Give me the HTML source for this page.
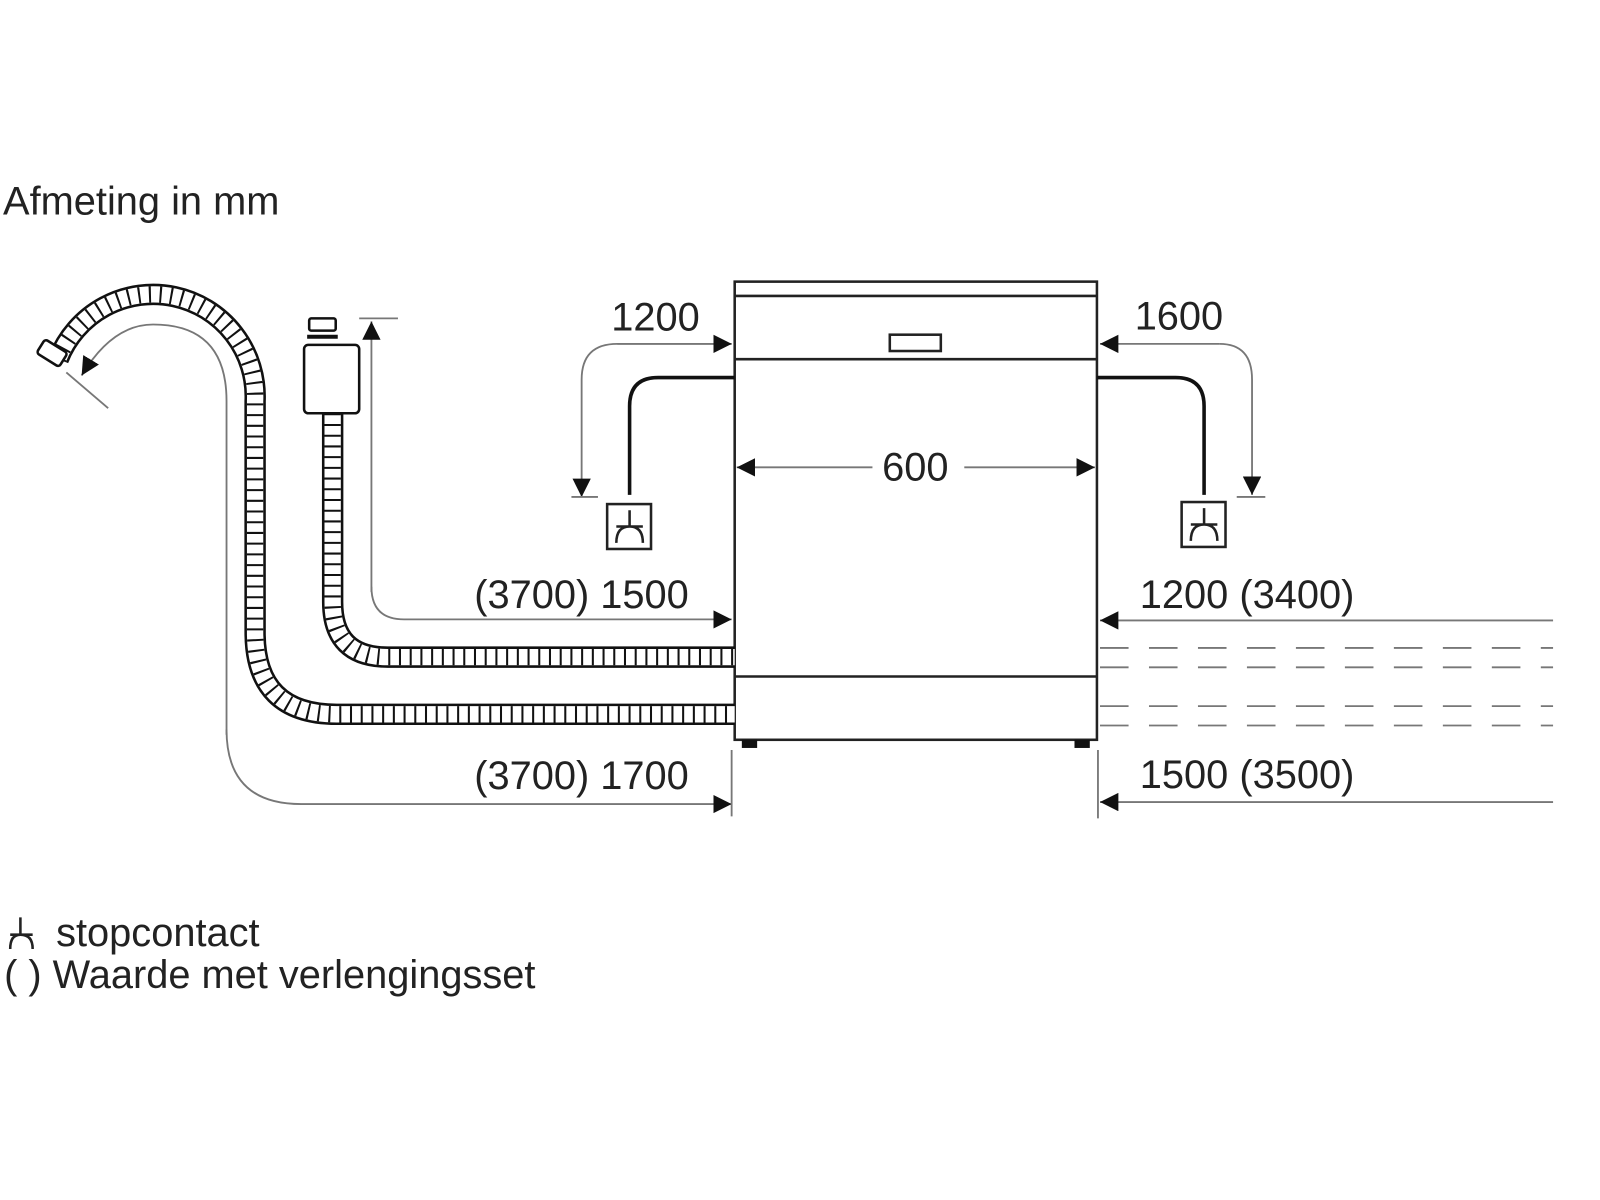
<!DOCTYPE html>
<html><head><meta charset="utf-8"><style>html,body{margin:0;padding:0;background:#fff}svg{display:block}</style></head><body>
<svg width="1600" height="1200" viewBox="0 0 1568 1176" xmlns="http://www.w3.org/2000/svg" font-family="Liberation Sans, sans-serif" fill="none">
<defs>
<marker id="a" viewBox="0 0 10 10" refX="10" refY="5" markerWidth="18" markerHeight="18" markerUnits="userSpaceOnUse" orient="auto"><path d="M0,0 L10,5 L0,10z" fill="#111"/></marker>
</defs>
<g fill="#222" stroke="none" font-size="39">
<text x="3" y="210">Afmeting in mm</text>
<text x="599" y="324">1200</text>
<text x="1112" y="323">1600</text>
<text x="897" y="471" text-anchor="middle">600</text>
<text x="675" y="596" text-anchor="end">(3700) 1500</text>
<text x="1117" y="596">1200 (3400)</text>
<text x="675" y="773" text-anchor="end">(3700) 1700</text>
<text x="1117" y="772">1500 (3500)</text>
<text x="55" y="927">stopcontact</text>
<text x="4" y="968">( ) Waarde met verlengingsset</text>
</g>
<g stroke="#222" stroke-width="2.5"><path d="M20 899 V916 M10 916 H32 M10 930 Q10 916 20 916 Q32 916 32 930"/></g>
<g stroke="#222" stroke-width="2.5">
<rect x="720" y="276" width="355" height="449"/>
<line x1="720" y1="290" x2="1075" y2="290"/>
<line x1="720" y1="352" x2="1075" y2="352"/>
<line x1="720" y1="663" x2="1075" y2="663"/>
<rect x="872" y="328" width="50" height="16"/>
</g>
<rect x="727" y="725" width="15" height="8" fill="#111"/>
<rect x="1053" y="725" width="15" height="8" fill="#111"/>
<g stroke="#111" stroke-width="3.5">
<path d="M720 370 H645 Q617 370 617 398 V485"/>
<path d="M1075 370 H1152 Q1180 370 1180 398 V485"/>
</g>
<g stroke="#222" stroke-width="2.5">
<rect x="595" y="494" width="43" height="44"/>
<path d="M617 500 V516 M604 516 H630 M604 532 Q604 516 617 516 Q630 516 630 532"/>
<rect x="1158" y="492" width="43" height="44"/>
<path d="M1180 498 V514 M1167 514 H1193 M1167 530 Q1167 514 1180 514 Q1193 514 1193 530"/>
</g>
<g stroke="#777" stroke-width="1.8">
<path d="M717 337 H605 Q570 337 570 372 V487" marker-end="url(#a)"/>
<path d="M605 337 H717" marker-end="url(#a)"/>
<line x1="560" y1="487" x2="586" y2="487"/>
<path d="M1195 337 Q1227 337 1227 372 V485" marker-end="url(#a)"/>
<path d="M1195 337 H1078" marker-end="url(#a)"/>
<line x1="1212" y1="487" x2="1240" y2="487"/>
<path d="M855 458 H722" marker-end="url(#a)"/>
<path d="M945 458 H1073" marker-end="url(#a)"/>
<path d="M364 580 V315" marker-end="url(#a)"/>
<path d="M364 575 Q364 607 396 607 H717" marker-end="url(#a)"/>
<line x1="352" y1="312" x2="390" y2="312"/>
<path d="M222 720 V393 Q222 318 150 318 Q110 318 80 368" marker-end="url(#a)"/>
<path d="M222 715 Q222 788 295 788 H717" marker-end="url(#a)"/>
<line x1="65" y1="365" x2="106" y2="400"/>
<line x1="717" y1="735" x2="717" y2="800"/>
<line x1="1076" y1="735" x2="1076" y2="802"/>
<path d="M1522 608 H1078" marker-end="url(#a)"/>
<path d="M1522 786 H1078" marker-end="url(#a)"/>
<g stroke-dasharray="28 20">
<line x1="1078" y1="635" x2="1522" y2="635"/>
<line x1="1078" y1="654" x2="1522" y2="654"/>
<line x1="1078" y1="692" x2="1522" y2="692"/>
<line x1="1078" y1="711" x2="1522" y2="711"/>
</g>
</g>
<g>
<path d="M326 405 V590 Q326 644 380 644 H720" stroke="#111" stroke-width="21"/>
<path d="M326 405 V590 Q326 644 380 644 H720" stroke="#fff" stroke-width="16"/>
<path d="M326 405 V590 Q326 644 380 644 H720" stroke="#111" stroke-width="16" stroke-dasharray="2 8.5"/>
<path d="M57 352 A100 100 0 0 1 250 393 V620 Q250 700 330 700 H720" stroke="#111" stroke-width="21"/>
<path d="M57 352 A100 100 0 0 1 250 393 V620 Q250 700 330 700 H720" stroke="#fff" stroke-width="16"/>
<path d="M57 352 A100 100 0 0 1 250 393 V620 Q250 700 330 700 H720" stroke="#111" stroke-width="16" stroke-dasharray="2 8.5"/>
</g>
<g stroke="#111" stroke-width="2.5" fill="#fff">
<rect x="38" y="338" width="26" height="16" rx="3" transform="rotate(32 51 346)"/>
<rect x="298" y="338" width="54" height="67" rx="4"/>
<rect x="303" y="312" width="26" height="12" rx="2"/>
<path d="M301 330 H331" stroke-width="4"/>
</g>
</svg>
</body></html>
